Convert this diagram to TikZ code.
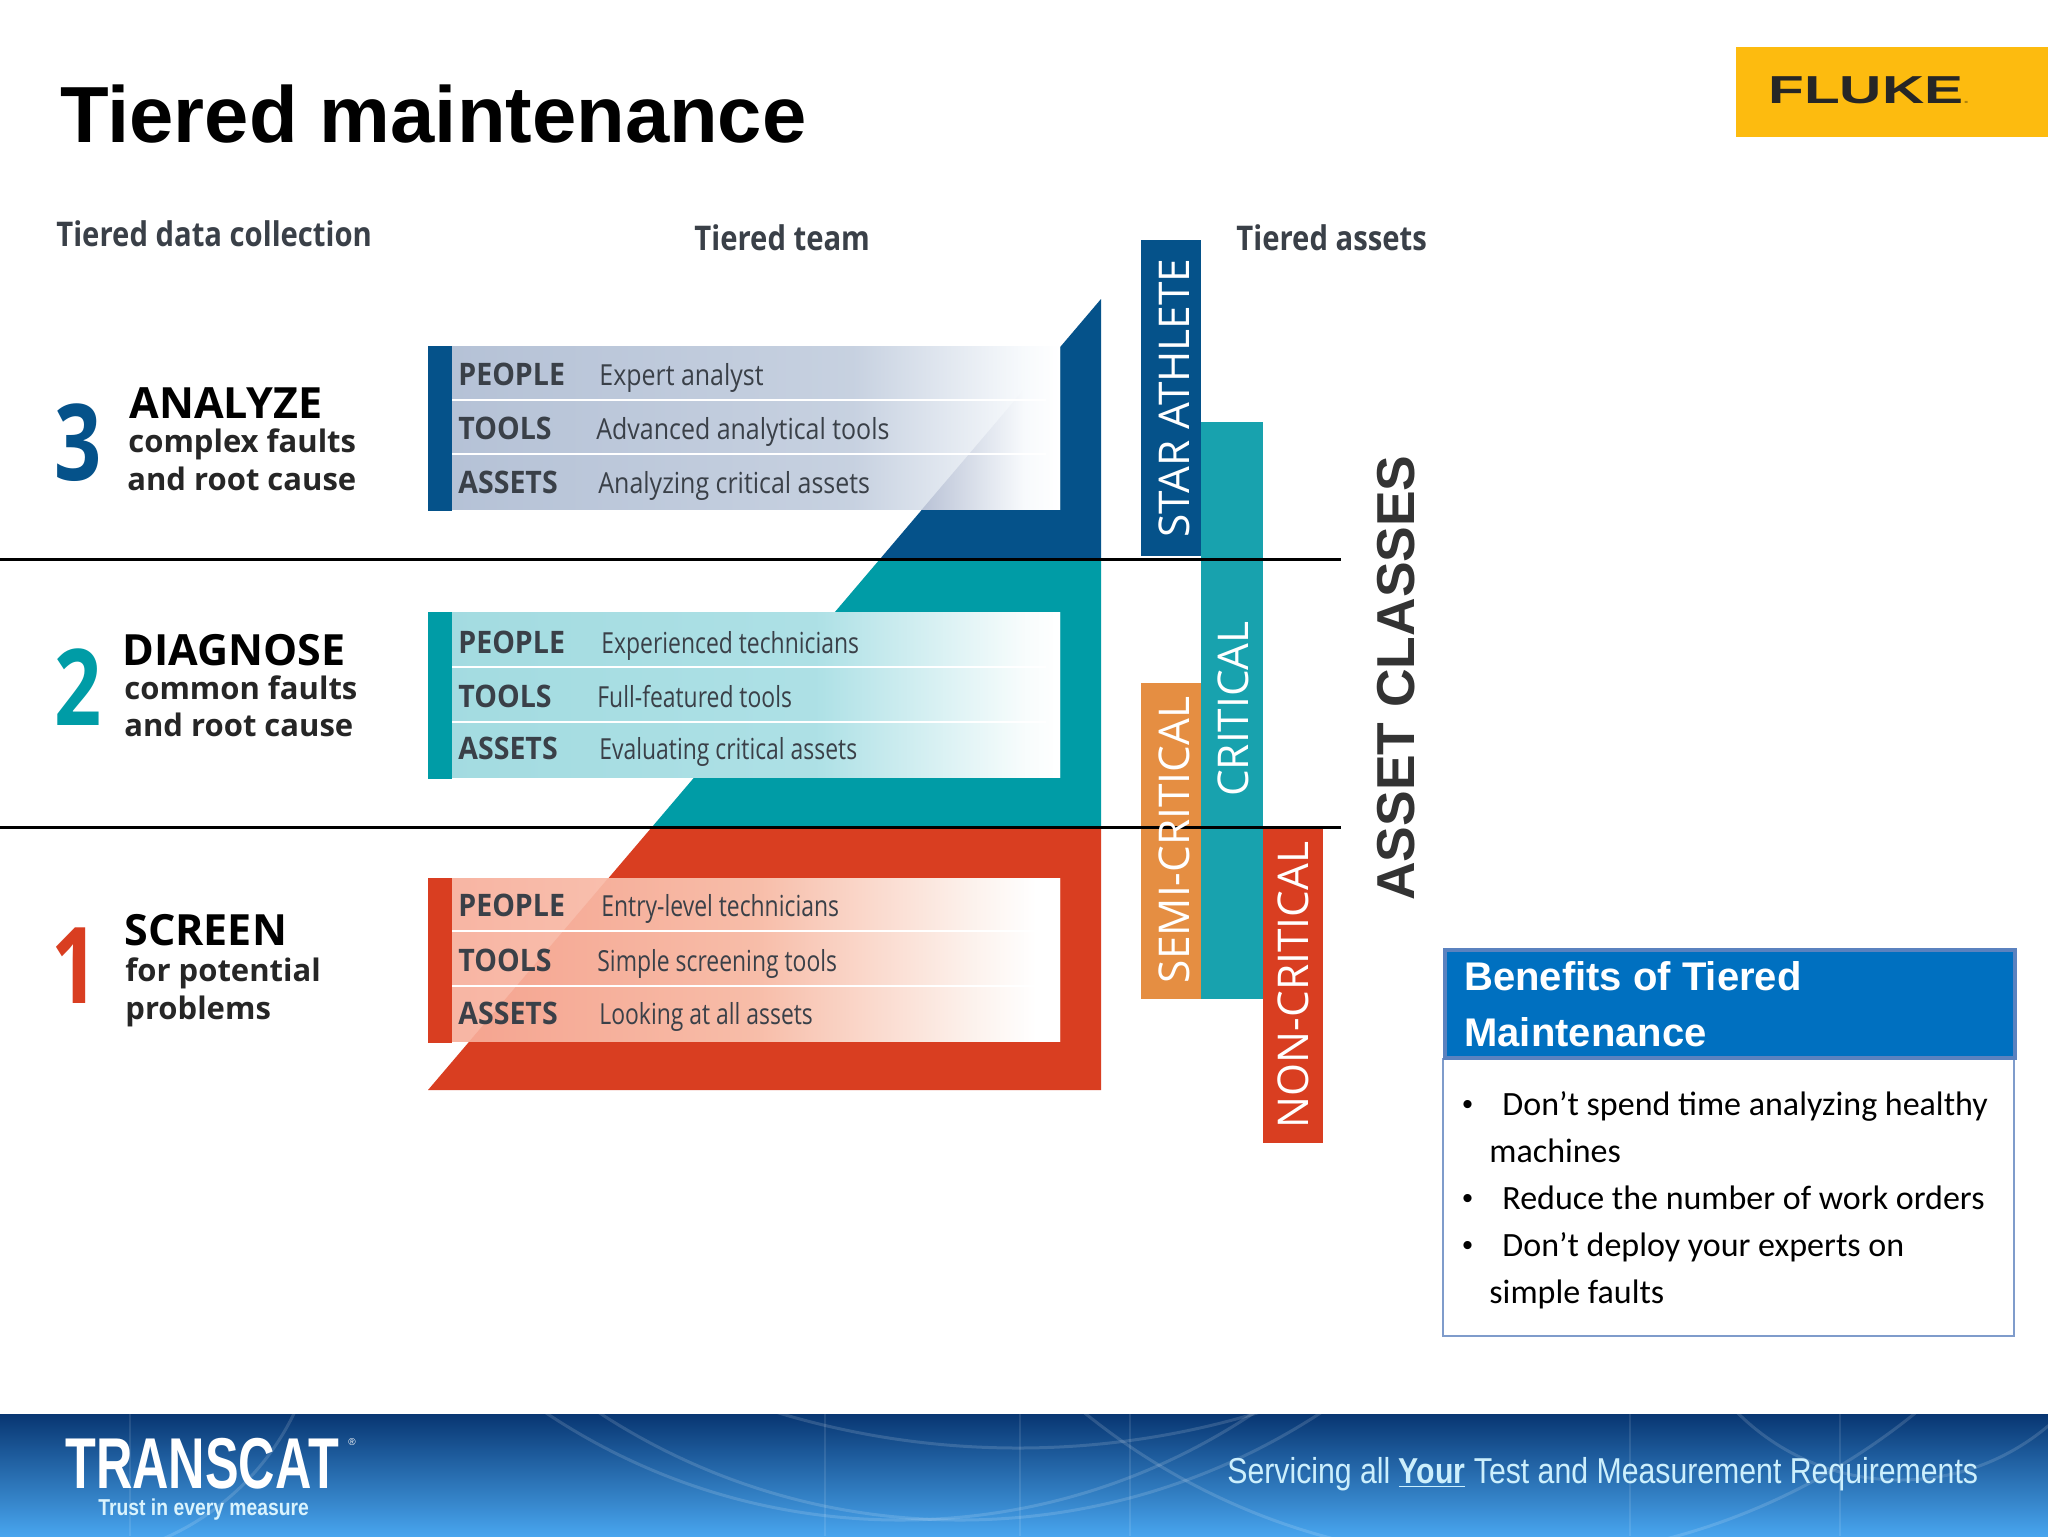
\documentclass[tikz,border=0pt]{standalone}
\usepackage{fontspec}
\usepackage{tikz}
\usetikzlibrary{positioning}
\setmainfont{Liberation Sans}
\newfontfamily\bodyfont{Carlito}
\newfontfamily\rowfont[FakeStretch=.86]{Open Sans}
\newfontfamily\rowheadfont[FakeStretch=.92]{Open Sans}
\newfontfamily\rownarrow[FakeStretch=.79]{Open Sans}
\newfontfamily\stepfont{Open Sans}
\newfontfamily\numfont[FakeStretch=.78]{Open Sans}
\newfontfamily\barfont{Open Sans}
\newfontfamily\wideffont[FakeStretch=1.5]{Liberation Sans}
\newfontfamily\footfont[FakeStretch=.84]{Liberation Sans}
\newfontfamily\trustfont[FakeStretch=.84]{Liberation Sans}
\newfontfamily\logofont[FakeStretch=.7]{Liberation Sans}

\definecolor{tierblue}{HTML}{05528A}
\definecolor{tierteal}{HTML}{009CA6}
\definecolor{tierred}{HTML}{D93E21}
\definecolor{barteal}{HTML}{18A2AE}
\definecolor{barorange}{HTML}{E58E42}
\definecolor{flukeyellow}{HTML}{FDBB0F}
\definecolor{headblue}{HTML}{0070C0}
\definecolor{headedge}{HTML}{5B82BF}
\definecolor{boxedge}{HTML}{7F9CCB}
\definecolor{inktext}{HTML}{3A4048}
\definecolor{foottop}{HTML}{083672}
\definecolor{footmid}{HTML}{0E4F97}
\definecolor{footbot}{HTML}{48A5EE}

\pgfdeclarehorizontalshading{fadeblue}{100bp}{rgb(0bp)=(.71,.76,.84);rgb(25bp)=(.71,.76,.84);rgb(58bp)=(.78,.82,.88);rgb(72bp)=(.97,.98,.99);rgb(75bp)=(1,1,1);rgb(100bp)=(1,1,1)}
\pgfdeclarehorizontalshading{fadeblueb}{100bp}{rgb(0bp)=(.66,.71,.80);rgb(25bp)=(.66,.71,.80);rgb(62bp)=(.68,.72,.81);rgb(72bp)=(.97,.98,.99);rgb(75bp)=(1,1,1);rgb(100bp)=(1,1,1)}
\pgfdeclarehorizontalshading{fadeteal}{100bp}{rgb(0bp)=(.64,.86,.88);rgb(25bp)=(.64,.86,.88);rgb(55bp)=(.68,.88,.90);rgb(72bp)=(.97,.99,.99);rgb(75bp)=(1,1,1);rgb(100bp)=(1,1,1)}
\pgfdeclarehorizontalshading{fadered}{100bp}{rgb(0bp)=(.97,.71,.64);rgb(25bp)=(.97,.71,.64);rgb(50bp)=(.98,.78,.71);rgb(68bp)=(.99,.95,.93);rgb(73bp)=(1,1,1);rgb(100bp)=(1,1,1)}
\pgfdeclarehorizontalshading{faderedb}{100bp}{rgb(0bp)=(.96,.64,.56);rgb(25bp)=(.96,.64,.56);rgb(50bp)=(.97,.74,.66);rgb(68bp)=(.99,.95,.93);rgb(73bp)=(1,1,1);rgb(100bp)=(1,1,1)}

\tikzset{
	rowhead/.style={anchor=base west,inner sep=0pt,text=inktext,font=\rowheadfont\fontsize{15.5}{15.5}\selectfont\bfseries},
	rowtext/.style={anchor=base west,inner sep=0pt,text=inktext,font=\rowfont\fontsize{14.5}{14.5}\selectfont},
	rowtextb/.style={anchor=base west,inner sep=0pt,text=inktext,font=\rownarrow\fontsize{14.5}{14.5}\selectfont},
	columnhead/.style={anchor=base west,inner sep=0pt,text=inktext,font=\rowfont\fontsize{17}{17}\selectfont\bfseries},
	stepname/.style={anchor=base west,inner sep=0pt,text=black,font=\stepfont\fontsize{21.5}{21.5}\selectfont\bfseries},
	stepline/.style={anchor=base west,inner sep=0pt,text=black!85,font=\stepfont\fontsize{15.5}{15.5}\selectfont\bfseries},
	stepnum/.style={anchor=base,inner sep=0pt,font=\numfont\fontsize{53}{53}\selectfont\bfseries},
	barlabel/.style={rotate=90,inner sep=0pt,text=white,font=\barfont\fontsize{21.2}{21.2}\selectfont},
	bullettext/.style={anchor=base west,inner sep=0pt,text=black,font=\bodyfont\fontsize{17}{17}\selectfont},
	bulletdot/.style={anchor=base west,inner sep=0pt,text=black,font=\fontsize{15}{15}\selectfont},
}

\begin{document}
\begin{tikzpicture}[x=0.5pt,y=-0.5pt]
	\useasboundingbox (0,0) rectangle (2048,1536);
	\fill[white] (0,0) rectangle (2048,1536);

	% title and logo
	\node[anchor=base west,inner sep=0pt,font=\fontsize{39.8}{39.8}\selectfont\bfseries] (title) at (60,142) {Tiered maintenance};
	\fill[flukeyellow] (1736,47) rectangle (2048,137);
	\node[anchor=base west,inner sep=0pt,text=black!85,font=\wideffont\fontsize{19.5}{19.5}\selectfont\bfseries] (fluke) at (1768,104) {FLUKE\textcolor{flukeyellow!70!black}{\fontsize{7}{7}\selectfont.}};

	% column heads
	\node[columnhead] (h1) at (56,246) {Tiered data collection};
	\node[columnhead] (h2) at (694,250) {Tiered team};
	\node[columnhead] (h3) at (1236,250) {Tiered assets};

	% the stair behind the boxes
	\fill[tierblue] (1101,299) -- (1101,559) -- (880,559) -- cycle;
	\fill[tierteal] (880,559) -- (1101,559) -- (1101,827) -- (652,827) -- cycle;
	\fill[tierred] (652,827) -- (1101,827) -- (1101,1090) -- (428,1090) -- cycle;

	% boxes
	\foreach \top/\bot/\fade/\fadeb/\bar in {346/509/fadeblue/fadeblueb/tierblue, 612/777/fadeteal/fadeteal/tierteal, 878/1041/fadered/faderedb/tierred}
	{
		\shade[shading=\fade] (452,\top) rectangle (1060,\bot);
		\begin{scope}
			\clip (1101,299) -- (1101,1090) -- (428,1090) -- cycle;
			\shade[shading=\fadeb] (452,\top) rectangle (1060,\bot);
		\end{scope}
		\fill[\bar] (428,\top) rectangle (452,\bot+2);
	}
	\foreach \yy in {400,454,667,722,931,986}
		\draw[white,line width=1.3pt] (452,\yy) -- (1046,\yy);

	% rows
	\foreach \name/\yy/\head/\xx/\sty/\txt in {
		a1/385/PEOPLE/599/rowtext/Expert analyst,
		a2/439/TOOLS/596/rowtext/Advanced analytical tools,
		a3/493/ASSETS/598/rowtext/Analyzing critical assets,
		b1/653/PEOPLE/601/rowtextb/Experienced technicians,
		b2/707/TOOLS/597/rowtextb/Full-featured tools,
		b3/759/ASSETS/599/rowtextb/Evaluating critical assets,
		c1/916/PEOPLE/601/rowtextb/Entry-level technicians,
		c2/971/TOOLS/597/rowtextb/Simple screening tools,
		c3/1024/ASSETS/599/rowtextb/Looking at all assets}
	{
		\node[rowhead] (\name h) at (458,\yy) {\head};
		\node[\sty] (\name t) at (\xx,\yy) {\txt};
	}

	% left column
	\node[stepnum,text=tierblue] (n3) at (78,480) {3};
	\node[stepname] (s3) at (129,418) {ANALYZE};
	\node[stepline] (s3a) at (128,452) {complex faults};
	\node[stepline] (s3b) at (127,490) {and root cause};
	\node[stepnum,text=tierteal] (n2) at (78,725) {2};
	\node[stepname] (s2) at (122,665) {DIAGNOSE};
	\node[stepline] (s2a) at (124,699) {common faults};
	\node[stepline] (s2b) at (124,736) {and root cause};
	\node[stepnum,text=tierred] (n1) at (75,1003) {1};
	\node[stepname] (s1) at (124,945) {SCREEN};
	\node[stepline] (s1a) at (125,981) {for potential};
	\node[stepline] (s1b) at (125,1019) {problems};

	% asset bars
	\fill[tierblue] (1141,240) rectangle (1201,556);
	\fill[barorange] (1141,683) rectangle (1201,999);
	\fill[barteal] (1201,422) rectangle (1263,999);
	\fill[tierred] (1263,827) rectangle (1323,1143);

	% tier lines
	\foreach \yy in {559,827}
		\draw[black,line width=1.5pt] (0,\yy) -- (1341,\yy);

	\node[barlabel] (star) at (1174,398) {STAR ATHLETE};
	\node[barlabel] (crit) at (1233,709) {CRITICAL};
	\node[barlabel] (semi) at (1174,840) {SEMI-CRITICAL};
	\node[barlabel] (non) at (1293,985) {NON-CRITICAL};
	\node[rotate=90,inner sep=0pt,text=black!80,font=\fontsize{26.7}{26.7}\selectfont\bfseries] (classes) at (1396,678) {ASSET CLASSES};

	% benefits box
	\draw[boxedge,line width=.8pt] (1443,1059) rectangle (2014,1336);
	\draw[headedge,fill=headblue,line width=2pt] (1445,950) rectangle (2015,1058);
	\node[anchor=base west,inner sep=0pt,text=white,font=\fontsize{20}{20}\selectfont\bfseries] (ben1) at (1464,990) {Benefits of Tiered};
	\node[anchor=base west,inner sep=0pt,text=white,font=\fontsize{20}{20}\selectfont\bfseries] (ben2) at (1464,1046) {Maintenance};
	\foreach \name/\yy in {d1/1114, d2/1208, d3/1255}
		\node[bulletdot] (\name) at (1462,\yy) {•};
	\node[bullettext] (t1) at (1502,1115) {Don’t spend time analyzing healthy};
	\node[bullettext] (t2) at (1489,1162) {machines};
	\node[bullettext] (t3) at (1502,1209) {Reduce the number of work orders};
	\node[bullettext] (t4) at (1502,1256) {Don’t deploy your experts on};
	\node[bullettext] (t5) at (1489,1303) {simple faults};

	% footer band
	\shade[top color=foottop,middle color=footmid,bottom color=footbot] (0,1414) rectangle (2048,1536);
	\begin{scope}
		\clip (0,1414) rectangle (2048,1536);
		\foreach \cx/\cy/\rr in {900/882/638, 1018/619/829, 960/860/660, 1900/1250/230, 60/1300/260, 1500/900/660}
			\draw[white,opacity=.14,line width=1.5pt] (\cx,\cy) circle (\rr);
		\foreach \xx in {130,825,1020,1130,1630,1840}
			\draw[white,opacity=.1,line width=.6pt] (\xx,1414) -- (\xx,1536);
	\end{scope}
	\node[anchor=base west,inner sep=0pt,text=white,font=\logofont\fontsize{36}{36}\selectfont\bfseries] (logo) at (65,1488) {TRANSCAT};
	\node[anchor=base west,inner sep=0pt,text=white,font=\fontsize{5}{5}\selectfont] (reg) at (348,1445) {®};
	\node[anchor=base west,inner sep=0pt,text=white!85!cyan,font=\trustfont\fontsize{11.5}{11.5}\selectfont\bfseries] (trust) at (98,1515) {Trust in every measure};
	\node[anchor=base west,inner sep=0pt,text=white!80!cyan,font=\footfont\fontsize{18}{18}\selectfont] (serv) at (1227,1483) {Servicing all \underline{\textbf{Your}} Test and Measurement Requirements};
\end{tikzpicture}
\end{document}
